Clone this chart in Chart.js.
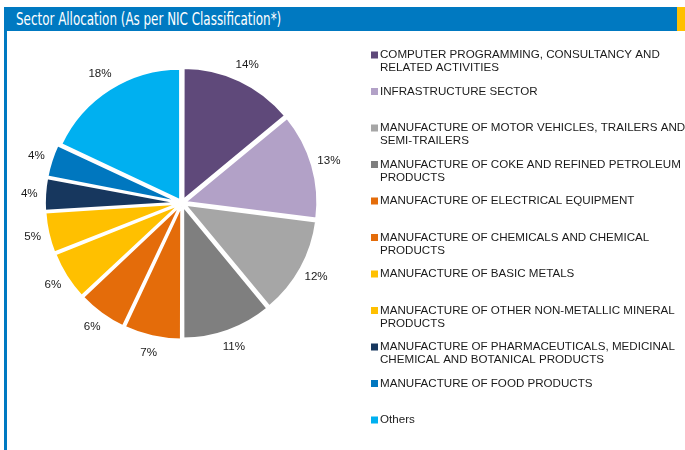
<!DOCTYPE html>
<html>
<head>
<meta charset="utf-8">
<script src="https://cdn.jsdelivr.net/npm/chart.js@4.4.1/dist/chart.umd.min.js"></script>
<style>
  html, body { margin: 0; padding: 0; background: #ffffff; }
  #wrap { position: relative; width: 685px; height: 450px; overflow: hidden; }
  #header {
    position: absolute; left: 4px; top: 7px; width: 673px; height: 24px;
    background: #0079c1; color: #ffffff;
    font-family: "DejaVu Sans Condensed", "DejaVu Sans", sans-serif; font-size: 17px;
    line-height: 24px; padding-left: 12px; box-sizing: border-box; white-space: nowrap;
  }
  #header span { display: inline-block; transform: scaleX(0.78); transform-origin: left center; }
  #tab { position: absolute; left: 677px; top: 7px; width: 8px; height: 24px; background: #ffc000; }
  #rule { position: absolute; left: 4px; top: 31px; width: 3px; height: 419px; background: #0079c1; }
  #chart { position: absolute; left: 0; top: 0; }
</style>
</head>
<body>
<div id="wrap">
  <canvas id="chart" width="685" height="450"></canvas>
  <div id="header"><span>Sector Allocation (As per NIC Classification*)</span></div>
  <div id="tab"></div>
  <div id="rule"></div>
</div>
<script>
// Сектора (каждая подпись разбита на строки легенды)
const sectors = [
  ['COMPUTER PROGRAMMING, CONSULTANCY AND', 'RELATED ACTIVITIES'],
  ['INFRASTRUCTURE SECTOR'],
  ['MANUFACTURE OF MOTOR VEHICLES, TRAILERS AND', 'SEMI-TRAILERS'],
  ['MANUFACTURE OF COKE AND REFINED PETROLEUM', 'PRODUCTS'],
  ['MANUFACTURE OF ELECTRICAL EQUIPMENT'],
  ['MANUFACTURE OF CHEMICALS AND CHEMICAL', 'PRODUCTS'],
  ['MANUFACTURE OF BASIC METALS'],
  ['MANUFACTURE OF OTHER NON-METALLIC MINERAL', 'PRODUCTS'],
  ['MANUFACTURE OF PHARMACEUTICALS, MEDICINAL', 'CHEMICAL AND BOTANICAL PRODUCTS'],
  ['MANUFACTURE OF FOOD PRODUCTS'],
  ['Others']
];
const shares = [14, 13, 12, 11, 7, 6, 6, 5, 4, 4, 18];
const colors = ['#5f497a', '#b2a1c7', '#a6a6a6', '#7f7f7f', '#e46c0a', '#e46c0a',
                '#ffc000', '#ffc000', '#17375e', '#0077bf', '#00b0f0'];

const textFont = '11.6px "Liberation Sans", Arial, sans-serif';

// Подписи процентов снаружи круга
const pctLabels = {
  id: 'pctLabels',
  afterDatasetsDraw(chart) {
    const ctx = chart.ctx;
    const meta = chart.getDatasetMeta(0);
    ctx.save();
    ctx.font = textFont;
    ctx.fillStyle = '#1a1a1a';
    ctx.textAlign = 'center';
    ctx.textBaseline = 'middle';
    meta.data.forEach((arc, i) => {
      const p = arc.getProps(['x', 'y', 'startAngle', 'endAngle', 'outerRadius'], true);
      const mid = (p.startAngle + p.endAngle) / 2;
      const r = p.outerRadius + 22;
      ctx.fillText(shares[i] + '%', p.x + Math.cos(mid) * r, p.y + Math.sin(mid) * r);
    });
    ctx.restore();
  }
};

// Легенда справа, по одному слоту на сектор
const sideLegend = {
  id: 'sideLegend',
  afterDraw(chart) {
    const ctx = chart.ctx;
    const x0 = 371, y0 = 55, step = 36.5, lineH = 13;
    ctx.save();
    ctx.font = textFont;
    ctx.textBaseline = 'middle';
    sectors.forEach((lines, i) => {
      const y = y0 + step * i;
      ctx.fillStyle = colors[i];
      ctx.fillRect(x0, y - 3.5, 7, 7);
      ctx.fillStyle = '#1a1a1a';
      lines.forEach((t, j) => ctx.fillText(t, x0 + 9, y + j * lineH));
    });
    ctx.restore();
  }
};

new Chart(document.getElementById('chart'), {
  type: 'pie',
  data: {
    labels: sectors.map(l => l.join(' ')),
    datasets: [{
      data: shares,
      backgroundColor: colors,
      borderColor: '#ffffff',
      borderWidth: 2,
      offset: 14
    }]
  },
  options: {
    responsive: false,
    animation: false,
    events: [],
    layout: { padding: { left: 43, right: 364, top: 64, bottom: 108 } },
    plugins: {
      legend: { display: false },
      tooltip: { enabled: false }
    }
  },
  plugins: [pctLabels, sideLegend]
});
</script>
</body>
</html>
